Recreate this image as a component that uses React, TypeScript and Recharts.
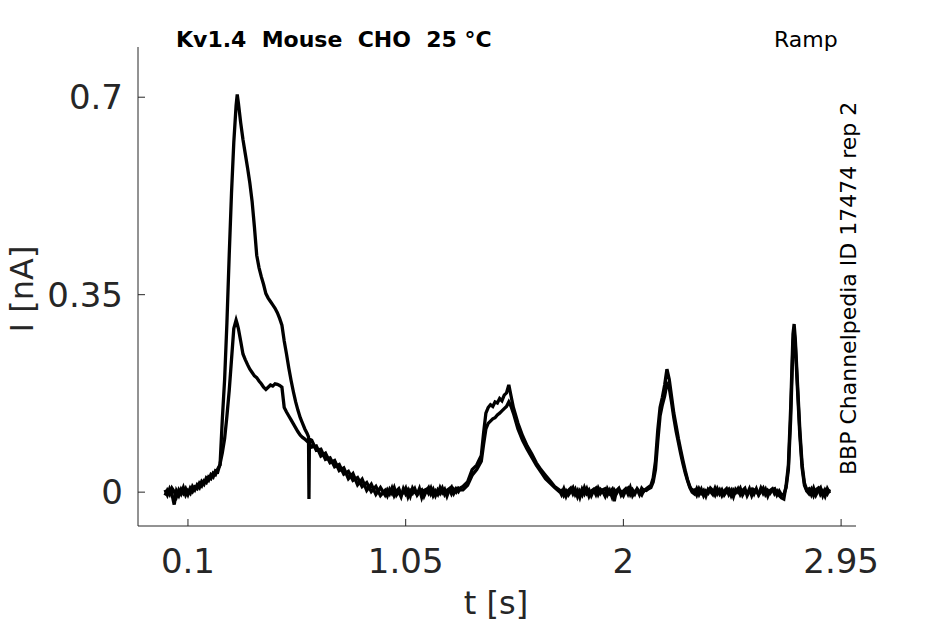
import React from "react";
import { LineChart, Line, XAxis, YAxis } from "recharts";

// sample times [s]
const times = [
  0, 0.01, 0.02, 0.03, 0.04, 0.05, 0.06, 0.07, 0.08, 0.09, 0.1, 0.11, 0.12, 0.13, 0.14, 0.15, 0.16,
  0.17, 0.18, 0.19, 0.2, 0.21, 0.22, 0.23, 0.24,
  0.25, 0.26, 0.27, 0.28, 0.29, 0.3, 0.31, 0.315,
  0.32, 0.33, 0.34, 0.35, 0.36, 0.37, 0.38, 0.39, 0.4, 0.41, 0.42, 0.43, 0.44, 0.45, 0.46, 0.47,
  0.48, 0.49, 0.5, 0.51, 0.52, 0.53, 0.54, 0.55, 0.56, 0.57, 0.58, 0.59, 0.6, 0.61, 0.62,
  0.626, 0.628, 0.63,
  0.64, 0.66, 0.68, 0.7, 0.72, 0.74, 0.76, 0.78, 0.8, 0.82, 0.84, 0.86, 0.88, 0.9, 0.92, 0.94,
  0.96, 0.97, 0.98, 0.99, 1.0, 1.01, 1.02, 1.03, 1.04, 1.05, 1.06, 1.07, 1.08, 1.09, 1.1, 1.11, 1.12,
  1.13, 1.14, 1.15, 1.16, 1.17, 1.18, 1.19, 1.2, 1.21, 1.22, 1.23, 1.24, 1.25, 1.26, 1.27, 1.28, 1.29,
  1.3, 1.32, 1.34, 1.36, 1.38,
  1.39, 1.4, 1.41, 1.42, 1.43, 1.44, 1.45, 1.46, 1.47, 1.48, 1.49, 1.5, 1.51, 1.52,
  1.54, 1.56, 1.58, 1.6, 1.62, 1.64, 1.66, 1.68, 1.7, 1.72,
  1.73, 1.74, 1.75, 1.76, 1.77, 1.78, 1.79, 1.8, 1.81, 1.82, 1.83, 1.84, 1.85, 1.86, 1.87, 1.88, 1.89, 1.9,
  1.91, 1.92, 1.93, 1.94, 1.95, 1.96, 1.97, 1.98, 1.99, 2.0, 2.01, 2.02, 2.03, 2.04, 2.05, 2.06, 2.07, 2.08,
  2.09, 2.1, 2.11,
  2.12, 2.13, 2.14, 2.15, 2.16, 2.17, 2.18, 2.19, 2.2, 2.21, 2.22, 2.23, 2.24, 2.25, 2.26, 2.27, 2.28, 2.29, 2.3,
  2.31, 2.32, 2.33, 2.34, 2.35, 2.36, 2.37, 2.38, 2.39, 2.4, 2.41, 2.42, 2.43, 2.44, 2.45, 2.46, 2.47, 2.48,
  2.49, 2.5, 2.51, 2.52, 2.53, 2.54, 2.55, 2.56, 2.57, 2.58, 2.59, 2.6, 2.61, 2.62, 2.63, 2.64, 2.65, 2.66,
  2.67, 2.68, 2.69,
  2.7, 2.71, 2.72, 2.73, 2.74, 2.745, 2.75, 2.76, 2.77, 2.78, 2.79, 2.8,
  2.81, 2.82, 2.83, 2.84, 2.85, 2.86, 2.87, 2.88, 2.89, 2.9,
];

// current [nA], sweep with the large first peak
const sweepLarge = [
  0.004, -0.005, 0.006, -0.003, -0.022, 0.002, -0.006, 0.005, -0.002, 0.006, -0.004, 0.007, 0.001, 0.009, 0.006, 0.016, 0.011,
  0.02, 0.017, 0.027, 0.024, 0.034, 0.031, 0.041, 0.048,
  0.13, 0.2, 0.3, 0.42, 0.53, 0.62, 0.685, 0.705,
  0.69, 0.655, 0.625, 0.6, 0.575, 0.548, 0.515, 0.47, 0.42, 0.398, 0.382, 0.368, 0.352, 0.344, 0.338, 0.332,
  0.326, 0.318, 0.308, 0.296, 0.268, 0.245, 0.22, 0.198, 0.178, 0.16, 0.145, 0.132, 0.122, 0.112, 0.104,
  0.098, -0.012, 0.094,
  0.092, 0.074, 0.076, 0.058, 0.061, 0.045, 0.049, 0.032, 0.037, 0.021, 0.026, 0.01, 0.017, 0.001, 0.01, -0.006,
  0.003, -0.006, 0.005, -0.002, 0.008, -0.005, 0.001, -0.008, 0.006, -0.003, 0.004, -0.007, 0.007, 0.0, -0.004, 0.006, -0.009,
  0.003, 0.005, -0.002, 0.007, -0.006, 0.002, -0.004, 0.008, -0.001, 0.005, -0.007, 0.004, 0.009, -0.002, 0.006, 0.001, 0.008,
  0.01, 0.018, 0.04, 0.048, 0.065,
  0.105, 0.14, 0.15, 0.155, 0.152, 0.16, 0.158, 0.166, 0.162, 0.172, 0.176, 0.19, 0.17, 0.15,
  0.122, 0.1, 0.082, 0.068, 0.052, 0.04, 0.03, 0.02, 0.01, 0.004,
  -0.004, 0.006, -0.007, 0.003, 0.007, -0.003, 0.005, -0.008, 0.002, -0.005, 0.008, -0.002, 0.004, -0.006, 0.003, 0.007, -0.004, 0.005,
  0.001, -0.007, 0.006, -0.002, 0.004, -0.016, 0.003, 0.007, -0.005, 0.002, 0.006, -0.003, 0.008, -0.006, 0.001, 0.005, -0.004, 0.007,
  0.002, 0.006, 0.009,
  0.012, 0.025, 0.055, 0.11, 0.15, 0.168, 0.19, 0.218, 0.2, 0.17, 0.14, 0.118, 0.095, 0.075, 0.056, 0.038, 0.022, 0.01, 0.003,
  0.004, -0.005, 0.006, -0.002, 0.003, -0.007, 0.005, 0.001, -0.004, 0.007, -0.003, 0.004, -0.006, 0.002, 0.006, -0.004, 0.003, -0.008,
  0.005, 0.0, 0.007, -0.005, 0.002, -0.003, 0.006, -0.006, 0.004, 0.001, -0.004, 0.007, -0.002, 0.005, -0.007, 0.003, 0.006, -0.003,
  0.002, -0.006, -0.01,
  -0.012, 0.012, 0.048, 0.15, 0.28, 0.298, 0.272, 0.19, 0.11, 0.048, 0.016, 0.004,
  0.006, -0.004, 0.007, -0.005, 0.003, 0.008, -0.006, 0.004, -0.003, 0.005,
];

// current [nA], sweep with the small first peak
const sweepSmall = [
  -0.006, 0.003, -0.004, 0.007, 0.001, -0.008, 0.004, -0.003, 0.008, -0.005, 0.003, -0.002, 0.01, 0.004, 0.013, 0.008, 0.019,
  0.014, 0.025, 0.021, 0.031, 0.027, 0.038, 0.036, 0.05,
  0.07, 0.095, 0.135, 0.18, 0.235, 0.29, 0.305, 0.298,
  0.29, 0.268, 0.245, 0.235, 0.226, 0.218, 0.212, 0.206, 0.203, 0.197, 0.192, 0.186, 0.182, 0.186, 0.19, 0.188,
  0.192, 0.191, 0.189, 0.186, 0.15, 0.142, 0.135, 0.128, 0.121, 0.114, 0.107, 0.101, 0.097, 0.094, 0.09,
  0.088, 0.087, 0.086,
  0.08, 0.082, 0.064, 0.069, 0.052, 0.056, 0.038, 0.043, 0.024, 0.033, 0.013, 0.023, 0.003, 0.014, -0.004, 0.008,
  -0.005, 0.004, -0.003, 0.007, -0.006, 0.002, 0.006, -0.004, -0.001, 0.007, -0.008, 0.003, -0.002, 0.006, -0.005, 0.001, 0.004,
  -0.007, 0.002, 0.008, -0.003, 0.005, -0.006, 0.004, -0.002, 0.007, -0.004, 0.003, 0.006, -0.003, 0.005, 0.0, 0.007, 0.004,
  0.004, 0.012, 0.03, 0.04, 0.055,
  0.085, 0.112, 0.122, 0.126, 0.13, 0.132, 0.137, 0.14, 0.144, 0.148, 0.152, 0.16, 0.152, 0.14,
  0.112, 0.092, 0.076, 0.062, 0.048, 0.036, 0.024, 0.016, 0.008, 0.001,
  0.003, -0.006, 0.002, -0.005, 0.001, 0.008, -0.004, 0.003, -0.009, 0.005, -0.003, 0.006, -0.007, 0.002, 0.005, -0.004, 0.007, -0.002,
  0.004, 0.006, -0.005, 0.003, -0.008, 0.004, -0.002, 0.005, 0.001, -0.006, 0.003, 0.007, -0.004, 0.004, -0.003, 0.006, 0.0, -0.005,
  0.004, 0.003, 0.006,
  0.008, 0.018, 0.04, 0.09, 0.135, 0.155, 0.17, 0.192, 0.185, 0.16, 0.132, 0.108, 0.088, 0.068, 0.05, 0.034, 0.02, 0.008, 0.0,
  -0.003, 0.006, -0.004, 0.005, -0.006, 0.002, -0.002, 0.007, 0.003, -0.005, 0.006, -0.003, 0.004, -0.005, 0.001, 0.005, -0.006, 0.004,
  -0.001, 0.006, -0.004, 0.003, 0.007, -0.006, 0.002, 0.005, -0.003, 0.006, -0.005, 0.001, 0.007, -0.004, 0.003, -0.002, 0.004, 0.006,
  -0.005, 0.002, -0.005,
  -0.004, 0.008, 0.04, 0.13, 0.262, 0.285, 0.262, 0.18, 0.1, 0.042, 0.012, 0.002,
  -0.003, 0.005, -0.006, 0.004, 0.007, -0.004, 0.002, -0.007, 0.006, -0.002,
];

const xTicks = [0.1, 1.05, 2, 2.95];
const yTicks = [0, 0.35, 0.7];

const data = times.map((t, i) => ({ t, large: sweepLarge[i], small: sweepSmall[i] }));

const FONT = "DejaVu Sans";
const INK = "#262626";

export default function App() {
  return (
    <div style={{ position: "relative", width: 945, height: 624, background: "#fff" }}>
      <style>{"body{margin:0}"}</style>
      <LineChart width={945} height={624} data={data} margin={{ top: 47, right: 89, bottom: 0, left: 0 }}>
        <XAxis
          type="number"
          dataKey="t"
          domain={[-0.118, 3.015]}
          ticks={xTicks}
          allowDataOverflow
          height={98}
          stroke={INK}
          tickSize={-7}
          tickMargin={30}
          tick={{ fontSize: 34, fill: INK, fontFamily: FONT }}
        />
        <YAxis
          type="number"
          domain={[-0.06, 0.789]}
          ticks={yTicks}
          allowDataOverflow
          width={138}
          stroke={INK}
          tickSize={-7}
          tickMargin={22}
          tick={{ fontSize: 34, fill: INK, fontFamily: FONT }}
        />
        <Line type="linear" dataKey="small" stroke="#000" strokeWidth={3.3} dot={false} isAnimationActive={false} />
        <Line type="linear" dataKey="large" stroke="#000" strokeWidth={3.3} dot={false} isAnimationActive={false} />
      </LineChart>
      <svg width={945} height={624} style={{ position: "absolute", left: 0, top: 0, pointerEvents: "none" }}>
        <text x={176} y={47} fontFamily={FONT} fontSize={22} fontWeight="bold" fill="#000" style={{ whiteSpace: "pre" }}>
          {"Kv1.4  Mouse  CHO  25 °C"}
        </text>
        <text x={774} y={47} fontFamily={FONT} fontSize={22} fill="#000">
          Ramp
        </text>
        <text
          x={856}
          y={475}
          fontFamily={FONT}
          fontSize={22}
          fill="#000"
          transform="rotate(-90 856 475)"
        >
          BBP Channelpedia ID 17474 rep 2
        </text>
        <text
          x={33}
          y={289}
          fontFamily={FONT}
          fontSize={32}
          fill={INK}
          textAnchor="middle"
          transform="rotate(-90 33 289)"
        >
          I [nA]
        </text>
        <text x={496} y={614} fontFamily={FONT} fontSize={32} fill={INK} textAnchor="middle">
          t [s]
        </text>
      </svg>
    </div>
  );
}
